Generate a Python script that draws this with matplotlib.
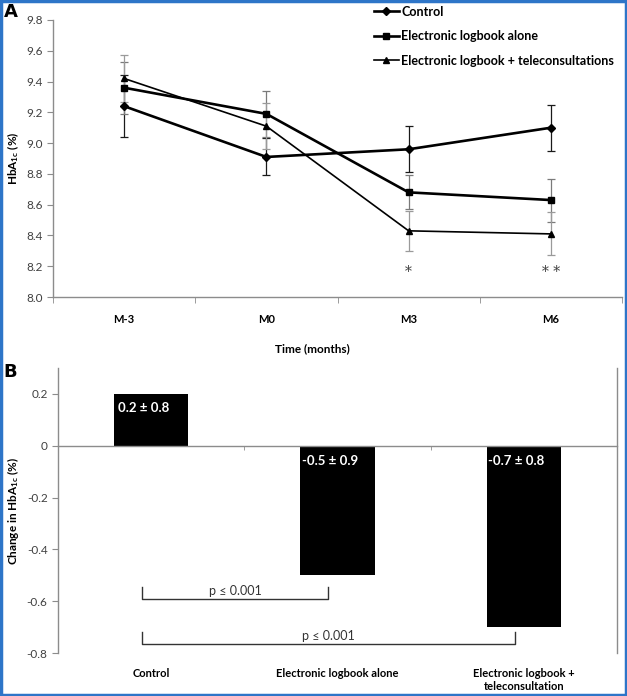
import matplotlib
matplotlib.use("Agg")
import matplotlib.pyplot as plt
from matplotlib.patches import Rectangle

plt.rcParams['font.family'] = ['Lato', 'DejaVu Sans']
plt.rcParams['axes.unicode_minus'] = False
plt.rcParams['mathtext.fontset'] = 'custom'
plt.rcParams['mathtext.rm'] = 'Lato:bold'
plt.rcParams['mathtext.bf'] = 'Lato:bold'
plt.rcParams['mathtext.default'] = 'rm'

# panel A data
months = ["M-3", "M0", "M3", "M6"]
control = [9.24, 8.91, 8.96, 9.10]
control_err = [0.20, 0.12, 0.15, 0.15]
logbook = [9.36, 9.19, 8.68, 8.63]
logbook_err = [0.17, 0.15, 0.11, 0.14]
tele = [9.42, 9.11, 8.43, 8.41]
tele_err = [0.15, 0.15, 0.13, 0.14]
stars = ["", "", "*", "* *"]

# panel B data
groups = ["Control", "Electronic logbook alone", "Electronic logbook +\nteleconsultation"]
change = [0.2, -0.5, -0.7]
change_sd = [0.8, 0.9, 0.8]
brackets = [(0, 1, -0.59, "p \u2264 0.001"), (0, 2, -0.765, "p \u2264 0.001")]

axis_gray = "#8c8c8c"
text_gray = "#404040"

fig = plt.figure(figsize=(6.27, 6.96), dpi=100)

# ---------- A ----------
ax = fig.add_axes([53/627, 1-297/696, 569/627, 277/696])
x = list(range(len(months)))
series = [
    (control, control_err, "D", 4.2, 1.9, "#1a1a1a", "Control"),
    (logbook, logbook_err, "s", 5, 1.9, "#7a7a7a", "Electronic logbook alone"),
    (tele, tele_err, "^", 5, 1.2, "#9a9a9a", "Electronic logbook + teleconsultations"),
]
handles = []
for vals, err, mk, ms, lw, ecol, lab in series:
    ax.errorbar(x, vals, yerr=err, fmt="none", ecolor=ecol, elinewidth=0.9,
                capsize=3, capthick=0.9, zorder=2)
    h, = ax.plot(x, vals, color="black", lw=lw, marker=mk, markersize=ms,
                 label=lab, zorder=3)
    handles.append(h)

for i, s in enumerate(stars):
    if s:
        ax.text(i, 8.16, s, ha="center", va="center", fontsize=10,
                color=text_gray, family="DejaVu Serif")

ax.set_xlim(-0.5, 3.5)
ax.set_ylim(8.0, 9.8)
ax.set_yticks([8.0, 8.2, 8.4, 8.6, 8.8, 9.0, 9.2, 9.4, 9.6, 9.8])
ax.set_yticklabels([f"{v:.1f}" for v in ax.get_yticks()])
ax.set_xticks(x)
ax.set_xticklabels(months, fontweight="bold")
ax.set_xticks([-0.5, 0.5, 1.5, 2.5, 3.5], minor=True)
ax.tick_params(axis="x", which="major", length=0, pad=12, labelsize=8, labelcolor="black")
ax.tick_params(axis="x", which="minor", length=4, color=axis_gray, direction="out")
ax.tick_params(axis="y", length=4, color=axis_gray, labelsize=8.5, labelcolor=text_gray)
for sp in ["top", "right"]:
    ax.spines[sp].set_visible(False)
for sp in ["left", "bottom"]:
    ax.spines[sp].set_color(axis_gray)
    ax.spines[sp].set_linewidth(1)
ax.set_ylabel("HbA$_{1c}$ (%)", fontweight="bold", fontsize=8.5)
ax.set_xlabel("Time (months)", fontweight="bold", fontsize=8.5)
ax.xaxis.set_label_coords(0.455, -0.165)

fig.legend(handles=handles, loc="upper left", bbox_to_anchor=(0.578, 1.008),
           frameon=False, handlelength=2.0, handletextpad=0.2, labelspacing=1.0,
           prop={"weight": "bold", "size": 9})

# ---------- B ----------
bx = fig.add_axes([58/627, 1-653/696, 559/627, 285/696])
bx.bar(range(len(groups)), change, width=0.4, color="black", zorder=2)
for i, (v, sd) in enumerate(zip(change, change_sd)):
    ty = v - 0.055 if v > 0 else -0.06
    bx.text(i - 0.04, ty, f"{v:.1f} \u00b1 {sd:.1f}", ha="center", va="center",
            color="white", fontweight="bold", fontsize=9.5)

for a, b, yv, lab in brackets:
    xa, xb = a - 0.05, b - 0.05
    bx.plot([xa, xa, xb, xb], [yv + 0.045, yv, yv, yv + 0.045], color="#333333", lw=1)
    bx.text((xa + xb) / 2, yv + 0.008, lab, ha="center", va="bottom", fontsize=9,
            color="#333333", family=["Lato", "DejaVu Sans"])

bx.set_xlim(-0.5, 2.5)
bx.set_ylim(-0.8, 0.3)
bx.set_yticks([-0.8, -0.6, -0.4, -0.2, 0, 0.2])
bx.set_yticklabels(["-0.8", "-0.6", "-0.4", "-0.2", "0", "0.2"])
bx.spines["bottom"].set_position(("data", 0))
bx.spines["top"].set_visible(False)
for sp in ["left", "right", "bottom"]:
    bx.spines[sp].set_color(axis_gray)
    bx.spines[sp].set_linewidth(1)
bx.set_xticks(range(len(groups)))
bx.set_xticks([0.5, 1.5], minor=True)
bx.tick_params(axis="x", which="major", length=0, labelbottom=False)
bx.tick_params(axis="x", which="minor", length=3, color=axis_gray)
bx.tick_params(axis="y", length=4, color=axis_gray, labelsize=8.5, labelcolor=text_gray)
bx.tick_params(axis="y", which="both", right=False)

sec = bx.secondary_xaxis(0)
sec.set_xticks(range(len(groups)))
sec.set_xticklabels(groups, fontweight="bold", fontsize=8)
sec.tick_params(length=0, pad=11)
sec.spines["bottom"].set_visible(False)
bx.set_ylabel("Change in HbA$_{1c}$ (%)", fontweight="bold", fontsize=8.5)

fig.text(0.006, 0.983, "A", fontsize=13, fontweight="bold", va="center", family="DejaVu Sans")
fig.text(0.006, 1-372/696, "B", fontsize=13, fontweight="bold", va="center", family="DejaVu Sans")

fig.patches.append(Rectangle((0.002, 0.002), 0.996, 0.996, transform=fig.transFigure,
                             fill=False, edgecolor="#2e75c8", lw=2.5))

fig.savefig("out.png", dpi=100)
